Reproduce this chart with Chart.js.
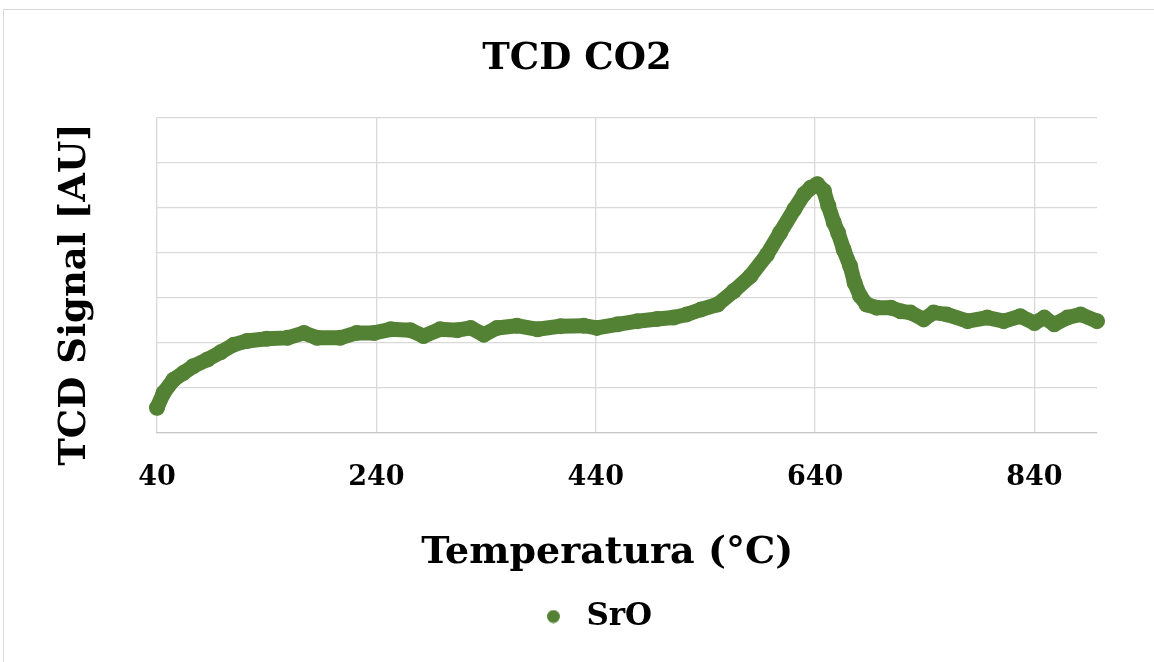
<!DOCTYPE html>
<html>
<head>
<meta charset="utf-8">
<script src="https://cdn.jsdelivr.net/npm/chart.js@4.4.0/dist/chart.umd.min.js"></script>
<style>
  body { margin: 0; background: #fff; }
  #marco { position: absolute; left: 3px; top: 9px; width: 1160px; height: 670px; border-top: 1px solid #d9d9d9; border-left: 1px solid #d9d9d9; }
  #grafico { position: absolute; left: 0; top: 0; }
</style>
</head>
<body>
<div id="marco"></div>
<canvas id="grafico" width="1154" height="662"></canvas>
<script>
const temperaturas = [40, 46, 55, 64, 73, 86, 98, 110, 122, 140, 159, 174, 186, 207, 222, 238, 253, 271, 283, 298,
  314, 326, 338, 350, 368, 387, 408, 429, 441, 460, 478, 496, 511, 523, 536, 551, 566, 581, 596, 608,
  621, 630, 636, 642, 648, 652, 657, 661, 666, 672, 676, 681, 687, 696, 709, 718, 727, 739, 748, 760,
  779, 797, 812, 827, 840, 849, 858, 870, 882, 897];
const senal = [0.56, 0.89, 1.18, 1.33, 1.48, 1.63, 1.79, 1.96, 2.04, 2.09, 2.11, 2.22, 2.11, 2.11, 2.22, 2.22, 2.30, 2.28, 2.15, 2.30,
  2.28, 2.33, 2.18, 2.33, 2.38, 2.30, 2.37, 2.38, 2.33, 2.41, 2.48, 2.53, 2.56, 2.63, 2.74, 2.85, 3.15, 3.48, 3.95, 4.44,
  4.96, 5.30, 5.44, 5.52, 5.37, 5.04, 4.67, 4.44, 4.07, 3.70, 3.33, 3.04, 2.85, 2.78, 2.78, 2.70, 2.67, 2.52, 2.67, 2.63,
  2.48, 2.56, 2.48, 2.59, 2.44, 2.56, 2.41, 2.56, 2.63, 2.48];
const ticksX = [40, 240, 440, 640, 840];
const verde = "#548235";
const gris = "#d9d9d9";
const fuente = "'DejaVu Serif', serif";

const puntos = temperaturas.map((t, i) => ({ x: t, y: senal[i] }));

// marcador de la leyenda: punto desplazado dentro de un lienzo ancho
const marcador = document.createElement("canvas");
marcador.width = 69;
marcador.height = 14;
const ctxMarcador = marcador.getContext("2d");
ctxMarcador.fillStyle = verde;
ctxMarcador.beginPath();
ctxMarcador.arc(51.5, 7, 6.5, 0, Math.PI * 2);
ctxMarcador.fill();

const config = {
  type: "scatter",
  data: {
    datasets: [
      {
        label: "SrO",
        data: puntos,
        borderColor: verde,
        backgroundColor: verde,
        showLine: true,
        borderWidth: 15,
        borderJoinStyle: "round",
        borderCapStyle: "round",
        pointRadius: 8,
        pointHoverRadius: 8,
        pointBorderWidth: 0,
        clip: false,
      },
    ],
  },
  options: {
    responsive: false,
    animation: false,
    layout: { padding: { top: 0, left: 0, right: 0, bottom: 20 } },
    plugins: {
      title: {
        display: true,
        text: "TCD CO2",
        color: "#000",
        font: { family: fuente, size: 37, weight: "bold" },
        padding: { top: 37, bottom: 36 },
      },
      legend: {
        position: "bottom",
        labels: {
          usePointStyle: true,
          pointStyle: marcador,
          pointStyleWidth: 69,
          boxHeight: 14,
          padding: 10,
          color: "#000",
          font: { family: fuente, size: 31, weight: "bold" },
        },
      },
      tooltip: { enabled: false },
    },
    scales: {
      x: {
        type: "linear",
        min: 40,
        max: 897,
        afterBuildTicks: (eje) => {
          eje.ticks = ticksX.map((v) => ({ value: v }));
        },
        afterFit: (eje) => {
          eje.height = 158;
        },
        grid: { color: gris, lineWidth: 1.3, drawTicks: false },
        border: { color: "#c8c8c8", width: 1.3 },
        ticks: {
          color: "#000",
          padding: 29,
          font: { family: fuente, size: 27, weight: "bold" },
        },
        title: {
          display: true,
          text: "Temperatura (°C)   ",
          color: "#000",
          font: { family: fuente, size: 38, weight: "bold" },
          padding: { top: 0, bottom: 15 },
        },
      },
      y: {
        min: 0,
        max: 7,
        ticks: { stepSize: 1, display: false },
        grid: { color: gris, lineWidth: 1.3, drawTicks: false },
        border: { display: false },
        afterFit: (eje) => {
          eje.width = 157;
        },
        title: {
          display: true,
          text: "TCD Signal [AU]   ",
          color: "#000",
          font: { family: fuente, size: 37, weight: "bold" },
          padding: { top: 53, bottom: 0 },
        },
      },
      yDerecha: {
        position: "right",
        grid: { display: false },
        ticks: { display: false },
        border: { display: false },
        afterFit: (eje) => {
          eje.width = 57;
        },
      },
    },
  },
};

new Chart(document.querySelector("#grafico"), config);
</script>
</body>
</html>
